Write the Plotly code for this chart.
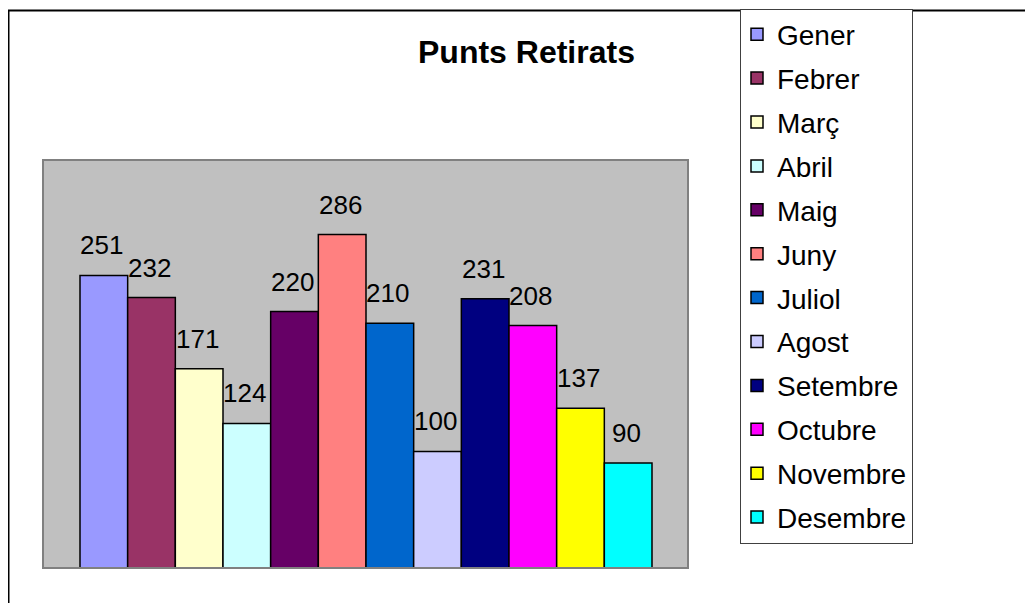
import plotly.graph_objects as go

months = ["Gener", "Febrer", "Març", "Abril", "Maig", "Juny", "Juliol", "Agost",
          "Setembre", "Octubre", "Novembre", "Desembre"]
values = [251, 232, 171, 124, 220, 286, 210, 100, 231, 208, 137, 90]
colors = ["#9999FF", "#993366", "#FFFFCC", "#CCFFFF", "#660066", "#FF8080",
          "#0066CC", "#CCCCFF", "#000080", "#FF00FF", "#FFFF00", "#00FFFF"]
title = "Punts Retirats"

# page body has an 8px margin; work in figure coordinates
W, H = 1025, 595
L, R, T, B = 35, 345, 152, 35
pw, ph = W - L - R, H - T - B
FONT = "Arial, Liberation Sans, Helvetica, sans-serif"

def px(x):
    return (x - L) / pw

def py(y):
    return (H - B - y) / ph

barw = pw / (len(months) + (37 + 36) / 47.67)
x_lo = -0.5 - 37 / barw
x_hi = len(months) - 0.5 + 36 / barw

fig = go.Figure()
for i, (m, v, c) in enumerate(zip(months, values, colors)):
    fig.add_trace(go.Bar(
        x=[i], y=[v], name=m, legendgroup=m, width=1,
        marker=dict(color=c, line=dict(color="black", width=1.5)),
        hoverinfo="name+y",
    ))

annotations = [
    dict(text=str(v), x=i, y=v, xref="x", yref="y", xanchor="center",
         yanchor="bottom", yshift=13, xshift=-2, showarrow=False,
         font=dict(family=FONT, size=26, color="black"))
    for i, v in enumerate(values)
]
annotations.append(
    dict(text="<b>" + title + "</b>", xref="paper", yref="paper",
         x=px(518), y=py(44), xanchor="center", yanchor="middle",
         showarrow=False, font=dict(family=FONT, size=32, color="black"))
)

fig.update_layout(
    width=W, height=H,
    margin=dict(l=L, r=R, t=T, b=B, autoexpand=False),
    paper_bgcolor="white", plot_bgcolor="#C0C0C0",
    barmode="overlay",
    showlegend=True,
    legend=dict(
        xref="container", yref="container",
        x=732 / W, y=1 - 0.5 / H, xanchor="left", yanchor="top",
        bgcolor="white", bordercolor="#404040", borderwidth=1,
        font=dict(family=FONT, size=28, color="black"),
        traceorder="grouped", tracegroupgap=4.5, itemwidth=30,
        indentation=-4, maxheight=700,
    ),
    xaxis=dict(range=[x_lo, x_hi], showticklabels=False, showgrid=False,
               zeroline=False, fixedrange=True),
    yaxis=dict(range=[0, 350], showticklabels=False, showgrid=False,
               zeroline=False, fixedrange=True),
    shapes=[
        dict(type="rect", xref="paper", yref="paper", x0=0, x1=1, y0=0, y1=1,
             line=dict(color="#808080", width=2)),
        dict(type="rect", xref="paper", yref="paper", x0=px(0.5), x1=px(1045),
             y0=py(615), y1=py(2.5), line=dict(color="black", width=2)),
    ],
    annotations=annotations,
)

fig.write_html("out.html")
